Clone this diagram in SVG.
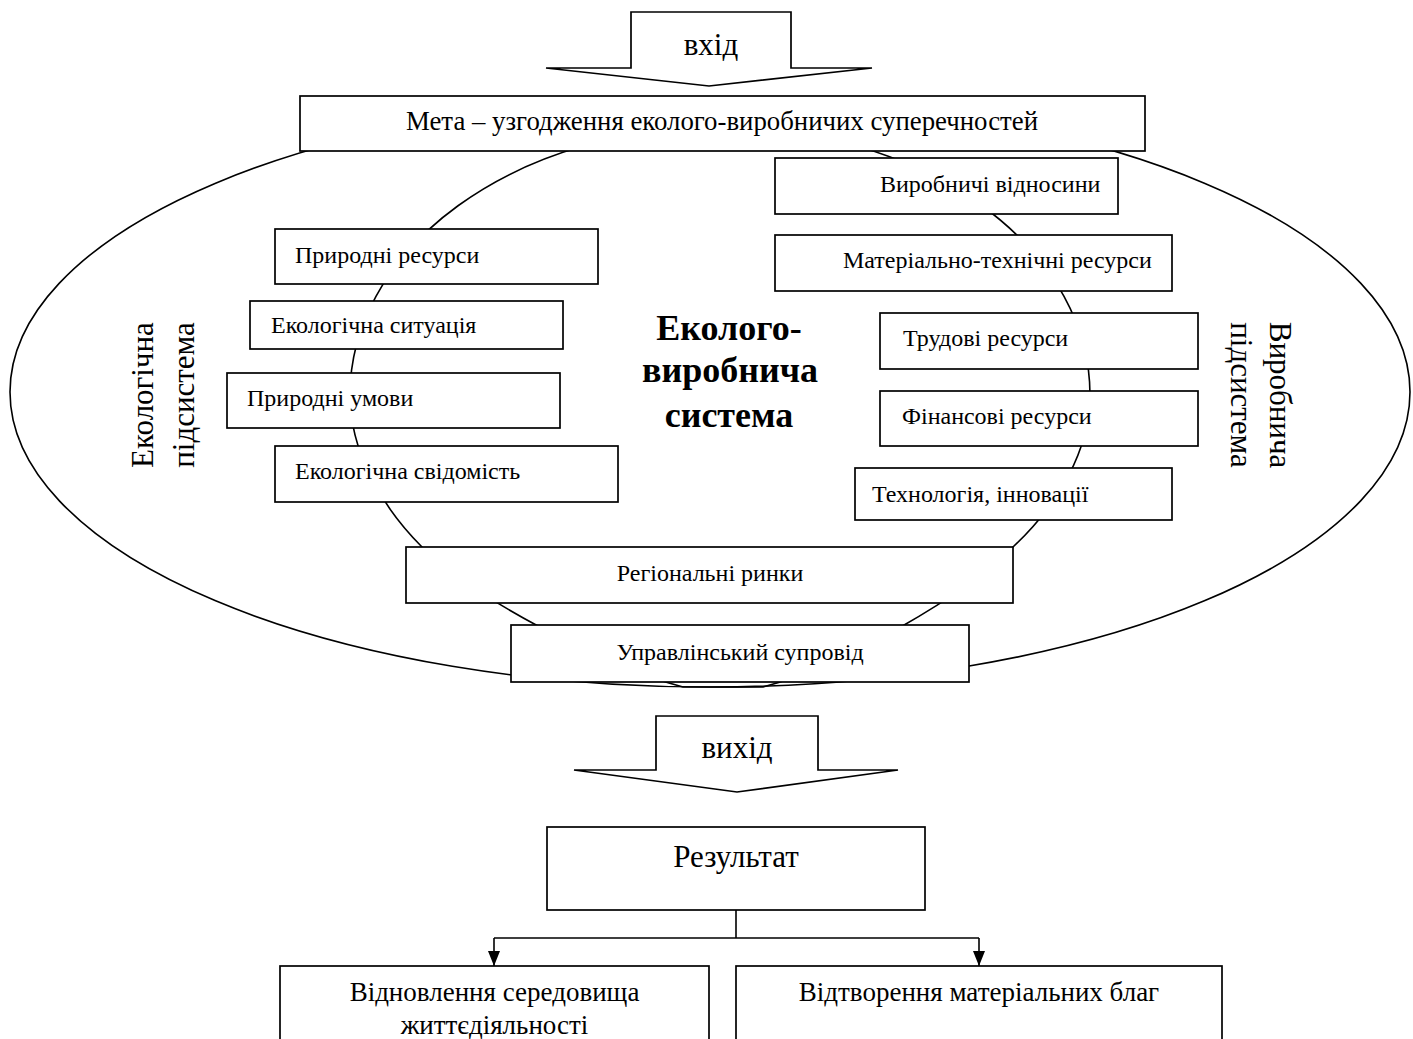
<svg xmlns="http://www.w3.org/2000/svg" width="1413" height="1039" viewBox="0 0 1413 1039">
<style>
.box{fill:#fff;stroke:#000;stroke-width:1.7}
.ln{fill:none;stroke:#000;stroke-width:1.6}
text{font-family:"Liberation Serif","Times New Roman",serif;fill:#000}
.s{font-size:24px}
.mt{font-size:26.8px}
.m{font-size:27px}
.l{font-size:31px}
.b{font-size:36px;font-weight:bold}
</style>
<defs>
<marker id="ah" markerUnits="userSpaceOnUse" markerWidth="16" markerHeight="12" refX="15" refY="6" orient="auto"><path d="M0,0 L15,6 L0,12 z" fill="#000"/></marker>
</defs>
<rect width="1413" height="1039" fill="#fff"/>
<g id="system-ellipse"><ellipse class="ln" cx="710" cy="392" rx="700" ry="295"/></g>
<g id="connectors">
<path id="inner-ring" class="ln" d="M720,127 A370,268 0 0 0 350,395 C350,450 380,505 422,547 C470,595 600,665 683,687 L763,687 C846,665 965,595 1013,547 C1058,505 1090,450 1090,395 A370,268 0 0 0 720,127 Z"/>
<path class="ln" d="M736,910 V938 M494,938 H979"/>
<line class="ln" x1="494" y1="938" x2="494" y2="966" marker-end="url(#ah)"/>
<line class="ln" x1="979" y1="938" x2="979" y2="966" marker-end="url(#ah)"/>
</g>
<g id="input-arrow"><path class="box" d="M631,12 H791 V68 H872 L709,86 L546,68 H631 Z"/><text class="l" x="711" y="55" text-anchor="middle">вхід</text></g>
<g id="goal"><rect class="box" x="300" y="96" width="845" height="55"/><text class="mt" x="722" y="130" text-anchor="middle">Мета – узгодження еколого-виробничих суперечностей</text></g>
<g id="eco-subsystem-label"><text class="l" text-anchor="middle" transform="translate(153,395) rotate(-90)"><tspan x="0" y="0">Екологічна</tspan><tspan x="0" y="41">підсистема</tspan></text></g>
<g id="prod-subsystem-label"><text class="l" text-anchor="middle" transform="translate(1270,395) rotate(90)"><tspan x="0" y="0">Виробнича</tspan><tspan x="0" y="39">підсистема</tspan></text></g>
<g id="system-title"><text class="b" text-anchor="middle"><tspan x="729" y="340">Еколого-</tspan><tspan x="730" y="382">виробнича</tspan><tspan x="729" y="427">система</tspan></text></g>
<g id="natural-resources"><rect class="box" x="275" y="229" width="323" height="55"/><text class="s" x="295" y="263">Природні ресурси</text></g>
<g id="eco-situation"><rect class="box" x="250" y="301" width="313" height="48"/><text class="s" x="271" y="333">Екологічна ситуація</text></g>
<g id="natural-conditions"><rect class="box" x="227" y="373" width="333" height="55"/><text class="s" x="247" y="406">Природні умови</text></g>
<g id="eco-awareness"><rect class="box" x="275" y="446" width="343" height="56"/><text class="s" x="295" y="479">Екологічна свідомість</text></g>
<g id="production-relations"><rect class="box" x="775" y="158" width="343" height="56"/><text class="s" x="880" y="192">Виробничі відносини</text></g>
<g id="material-resources"><rect class="box" x="775" y="235" width="397" height="56"/><text class="s" x="843" y="268">Матеріально-технічні ресурси</text></g>
<g id="labour-resources"><rect class="box" x="880" y="313" width="318" height="56"/><text class="s" x="903" y="346">Трудові ресурси</text></g>
<g id="financial-resources"><rect class="box" x="880" y="391" width="318" height="55"/><text class="s" x="902" y="424">Фінансові ресурси</text></g>
<g id="technology"><rect class="box" x="855" y="468" width="317" height="52"/><text class="s" x="872" y="502">Технологія, інновації</text></g>
<g id="regional-markets"><rect class="box" x="406" y="547" width="607" height="56"/><text class="s" x="710" y="581" text-anchor="middle">Регіональні ринки</text></g>
<g id="management"><rect class="box" x="511" y="625" width="458" height="57"/><text class="s" x="740" y="660" text-anchor="middle">Управлінський супровід</text></g>
<g id="output-arrow"><path class="box" d="M656,716 H818 V770 H898 L737,792 L574,770 H656 Z"/><text class="l" x="737" y="758" text-anchor="middle">вихід</text></g>
<g id="result"><rect class="box" x="547" y="827" width="378" height="83"/><text class="l" x="736" y="867" text-anchor="middle">Результат</text></g>
<g id="environment-restoration"><rect class="box" x="280" y="966" width="429" height="90"/><text class="m" text-anchor="middle"><tspan x="494.5" y="1001">Відновлення середовища</tspan><tspan x="494.5" y="1034">життєдіяльності</tspan></text></g>
<g id="goods-reproduction"><rect class="box" x="736" y="966" width="486" height="90"/><text class="m" x="979" y="1001" text-anchor="middle">Відтворення матеріальних благ</text></g>
</svg>
